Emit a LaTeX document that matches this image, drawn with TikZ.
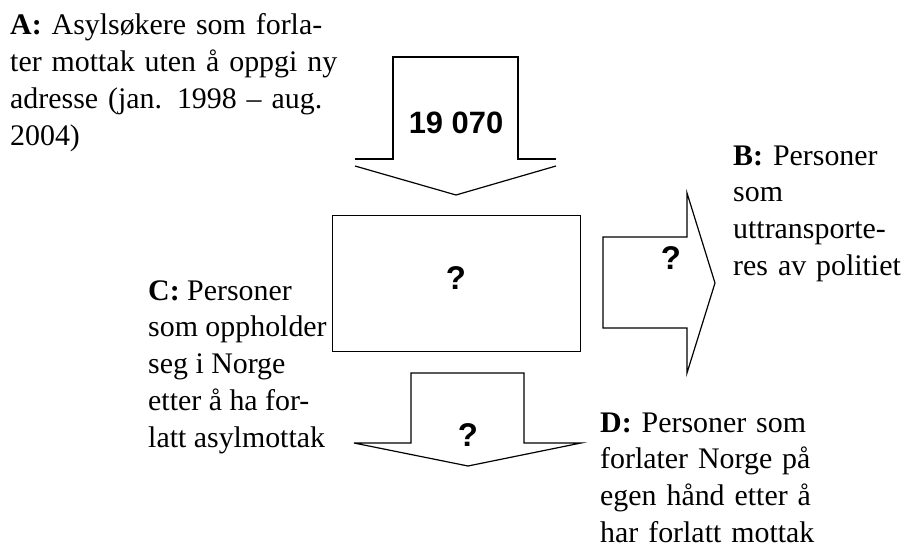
\documentclass[tikz,border=0pt]{standalone}
\usepackage{fontspec}
\setmainfont{Liberation Serif}
\newfontfamily\sansf{Liberation Sans}
\tikzset{
  txt/.style={anchor=north west, inner sep=0pt, font=\fontsize{30}{37}\selectfont},
  qmark/.style={inner sep=0pt, font=\sansf\bfseries\fontsize{33}{33}\selectfont},
  blockline/.style={draw, line width=1.2bp, line join=miter}
}
\newcommand{\jline}[1]{\makebox[\linewidth][s]{#1}}
\begin{document}
\begin{tikzpicture}[x=1bp, y=-1bp]
\useasboundingbox (0,0) rectangle (902,548);
% texts
\node[txt, text width=322bp, align=left] (A) at (10,9)
  {\jline{\strut\textbf{A:} Asylsøkere som forla-}\\
   \jline{ter mottak uten å oppgi ny}\\
   \jline{adresse (jan. 1998 – aug.}\\
   2004)};
\node[txt, text width=166bp, align=left] (B) at (733,139)
  {\jline{\strut\textbf{B:} Personer}\\
   \mbox{som}\\
   \mbox{uttransporte-}\\
   \mbox{res av politiet}};
\node[txt, align=left] (C) at (148,274)
  {\strut\textbf{C:} Personer\\
   som oppholder\\
   seg i Norge\\
   etter å ha for-\\
   latt asylmottak};
\node[txt, text width=232bp, align=left] (D) at (600,406)
  {\jline{\strut\textbf{D:} Personer som}\\
   \jline{forlater Norge på}\\
   \jline{egen hånd etter å}\\
   \mbox{har forlatt mottak}};
% top arrow
\draw[blockline] (355,159) -- (393,159) -- (393,57) -- (518,57) -- (518,159) -- (556,159);
\draw[blockline] (355,166) -- (456,195) -- (556,166);
\node[qmark, font=\sansf\bfseries\fontsize{31}{31}\selectfont] (n) at (456,123) {19 070};
% central box
\node[blockline, fill=white, anchor=north west, inner sep=0pt,
      minimum width=248bp, minimum height=136bp] (box) at (332,215) {};
\node[qmark] (qbox) at (456,278) {?};
% right arrow
\draw[blockline] (603,237) -- (687,237) -- (687,193) -- (715,283) -- (687,373) -- (687,328) -- (603,328) -- cycle;
\node[qmark] (qright) at (671,258) {?};
% bottom arrow
\draw[blockline] (354,443) -- (411,443) -- (411,373) -- (524,373) -- (524,443) -- (581,443) -- (468,466) -- cycle;
\node[qmark] (qdown) at (468,435) {?};
\end{tikzpicture}
\end{document}
